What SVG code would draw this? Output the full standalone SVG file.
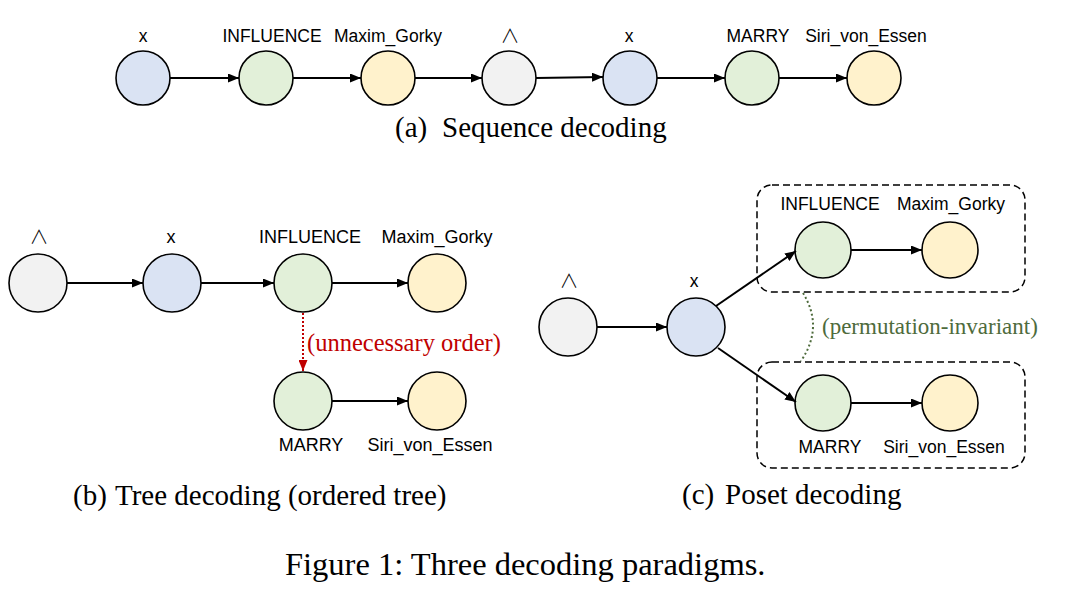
<svg xmlns="http://www.w3.org/2000/svg" width="1089" height="591" viewBox="0 0 1089 591">
<style>
.n{stroke:#000;stroke-width:1.6}
.g{fill:#F2F2F2}.b{fill:#DAE3F3}.gr{fill:#E2F0D9}.y{fill:#FFF2CC}
.lbl{font-family:"Liberation Sans",Arial,sans-serif;font-size:17.5px;fill:#000;text-anchor:middle}
.lb2{font-size:18px}
.and{font-family:"Noto Sans CJK SC","DejaVu Sans",sans-serif;font-size:19px;font-weight:300}
.cap{font-family:"Liberation Serif","Times New Roman",serif;font-size:29px;fill:#000}
.fig{font-family:"Liberation Serif","Times New Roman",serif;font-size:32.5px;fill:#000}
.e{stroke:#000;stroke-width:2;fill:none;marker-end:url(#ah)}
.box{fill:none;stroke:#000;stroke-width:1.5;stroke-dasharray:7 4}
</style>
<defs>
<marker id="ah" markerUnits="userSpaceOnUse" markerWidth="11" markerHeight="9" refX="11" refY="4.5" orient="auto"><path d="M0,0 L11,4.5 L0,9 z" fill="#000"/></marker>
<marker id="ahr" markerUnits="userSpaceOnUse" markerWidth="11" markerHeight="9" refX="11" refY="4.5" orient="auto"><path d="M0,0 L11,4.5 L0,9 z" fill="#C00000"/></marker>
</defs>

<!-- (a) Sequence decoding -->
<g id="a1"><circle class="n b" cx="143" cy="78" r="27"/><text class="lbl" x="143" y="42">x</text></g>
<g id="a2"><circle class="n gr" cx="266" cy="78" r="27"/><text class="lbl" x="272" y="42">INFLUENCE</text></g>
<g id="a3"><circle class="n y" cx="388" cy="78" r="27"/><text class="lbl" x="388" y="42">Maxim_Gorky</text></g>
<g id="a4"><circle class="n g" cx="509" cy="78" r="27"/><text class="lbl and" x="510" y="43">∧</text></g>
<g id="a5"><circle class="n b" cx="630" cy="78" r="27"/><text class="lbl" x="629" y="42">x</text></g>
<g id="a6"><circle class="n gr" cx="752" cy="78" r="27"/><text class="lbl" x="758" y="42">MARRY</text></g>
<g id="a7"><circle class="n y" cx="874" cy="78" r="27"/><text class="lbl" x="866" y="42">Siri_von_Essen</text></g>

<!-- (b) Tree decoding -->
<g id="b1"><circle class="n g" cx="38" cy="283" r="29"/><text class="lbl and" x="39" y="244">∧</text></g>
<g id="b2"><circle class="n b" cx="172" cy="283" r="29"/><text class="lbl lb2" x="171" y="243">x</text></g>
<g id="b3"><circle class="n gr" cx="303" cy="283" r="29"/><text class="lbl lb2" x="310" y="243">INFLUENCE</text></g>
<g id="b4"><circle class="n y" cx="437" cy="283" r="29"/><text class="lbl lb2" x="437" y="243">Maxim_Gorky</text></g>
<g id="b5"><circle class="n gr" cx="303" cy="401" r="29"/><text class="lbl lb2" x="311" y="451">MARRY</text></g>
<g id="b6"><circle class="n y" cx="437" cy="401" r="29"/><text class="lbl lb2" x="430" y="451">Siri_von_Essen</text></g>

<!-- (c) Poset decoding -->
<g id="c1"><circle class="n g" cx="568" cy="327" r="29"/><text class="lbl and" x="569" y="288">∧</text></g>
<g id="c2"><circle class="n b" cx="696" cy="327" r="29"/><text class="lbl" x="694" y="287">x</text></g>
<g id="c3"><circle class="n gr" cx="823" cy="250" r="28"/><text class="lbl" x="830" y="210">INFLUENCE</text></g>
<g id="c4"><circle class="n y" cx="950" cy="250" r="28"/><text class="lbl" x="951" y="210">Maxim_Gorky</text></g>
<g id="c5"><circle class="n gr" cx="823" cy="403" r="28"/><text class="lbl" x="830" y="453">MARRY</text></g>
<g id="c6"><circle class="n y" cx="950" cy="403" r="28"/><text class="lbl" x="944" y="453">Siri_von_Essen</text></g>
<g id="groupTop"><rect class="box" x="757" y="185" width="268" height="107" rx="15"/></g>
<g id="groupBottom"><rect class="box" x="757" y="362" width="268" height="106" rx="15"/></g>

<g id="connectors">
<line class="e" x1="170" y1="78" x2="239" y2="78"/>
<line class="e" x1="293" y1="78" x2="361" y2="78"/>
<line class="e" x1="415" y1="78" x2="482" y2="78"/>
<line class="e" x1="536" y1="78" x2="603" y2="77"/>
<line class="e" x1="657" y1="78" x2="725" y2="78"/>
<line class="e" x1="779" y1="78" x2="847" y2="78"/>

<line class="e" x1="67" y1="283" x2="143" y2="283"/>
<line class="e" x1="201" y1="283" x2="274" y2="283"/>
<line class="e" x1="332" y1="283" x2="408" y2="283"/>
<line class="e" x1="332" y1="401" x2="408" y2="401"/>
<line x1="303" y1="313" x2="303" y2="371" stroke="#C00000" stroke-width="2" stroke-dasharray="2 2" marker-end="url(#ahr)"/>

<line class="e" x1="597" y1="327" x2="667" y2="327"/>
<line class="e" x1="716" y1="306" x2="796" y2="251"/>
<line class="e" x1="718" y1="348" x2="796" y2="402"/>
<line class="e" x1="851" y1="250" x2="922" y2="250"/>
<line class="e" x1="851" y1="403" x2="922" y2="403"/>
<path d="M803 293 Q824 327 801 361" fill="none" stroke="#4E6B3C" stroke-width="2" stroke-dasharray="2 2.5"/>
</g>

<text x="307" y="351" font-family="Liberation Serif,Times New Roman,serif" font-size="24.5" fill="#C00000">(unnecessary order)</text>
<text x="822" y="334" font-family="Liberation Serif,Times New Roman,serif" font-size="23" fill="#4E6B3C">(permutation-invariant)</text>

<text class="cap" x="395" y="137">(a)</text><text class="cap" x="442" y="137">Sequence decoding</text>
<text class="cap" x="73" y="505">(b)</text><text class="cap" x="115" y="505">Tree decoding (ordered tree)</text>
<text class="cap" x="682" y="504">(c)</text><text class="cap" x="725" y="504">Poset decoding</text>
<text class="fig" x="285" y="575">Figure 1: Three decoding paradigms.</text>
</svg>
